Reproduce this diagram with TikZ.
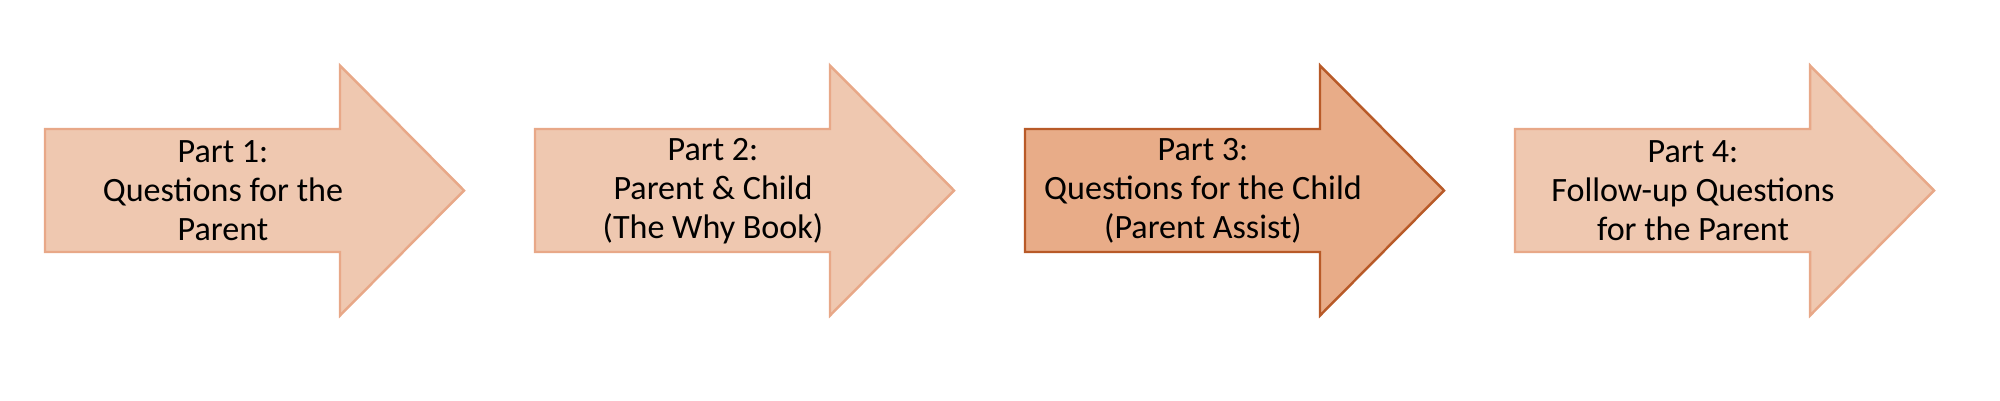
\documentclass[tikz,border=0pt]{standalone}
\usepackage{fontspec}
\setmainfont{Carlito}
\usepackage{tikz}

\definecolor{lightfill}{HTML}{EFC8B0}
\definecolor{lightline}{HTML}{E8A888}
\definecolor{darkfill}{HTML}{E8AC88}
\definecolor{darkline}{HTML}{B85A28}

\tikzset{
  partarrow/.style={fill=lightfill,draw=lightline,line width=0.7pt,line join=miter},
  partcur/.style={fill=darkfill,draw=darkline,line width=0.7pt,line join=miter},
  parttext/.style={align=center,inner sep=0pt,font=\fontsize{9.7}{11.1}\selectfont}
}

\begin{document}
\begin{tikzpicture}
\useasboundingbox (0,0) rectangle (20,4) ;

% the four arrows
\draw[partarrow] (0.45,2.71) -- (3.40,2.71) -- (3.40,3.345) -- (4.64,2.095) -- (3.40,0.845) -- (3.40,1.48) -- (0.45,1.48) -- cycle ;
\draw[partarrow] (5.35,2.71) -- (8.30,2.71) -- (8.30,3.345) -- (9.54,2.095) -- (8.30,0.845) -- (8.30,1.48) -- (5.35,1.48) -- cycle ;
\draw[partcur] (10.25,2.71) -- (13.20,2.71) -- (13.20,3.345) -- (14.44,2.095) -- (13.20,0.845) -- (13.20,1.48) -- (10.25,1.48) -- cycle ;
\draw[partarrow] (15.15,2.71) -- (18.10,2.71) -- (18.10,3.345) -- (19.34,2.095) -- (18.10,0.845) -- (18.10,1.48) -- (15.15,1.48) -- cycle ;

% labels
\node[parttext] (part1) at (2.23,2.09) {Part 1:\\Questions for the\\Parent} ;
\node[parttext] (part2) at (7.13,2.09) {Part 2:\\Parent \& Child\\(The Why Book)} ;
\node[parttext] (part3) at (12.03,2.09) {Part 3:\\Questions for the Child\\(Parent Assist)} ;
\node[parttext] (part4) at (16.93,2.09) {Part 4:\\Follow-up Questions\\for the Parent} ;

\end{tikzpicture}
\end{document}
